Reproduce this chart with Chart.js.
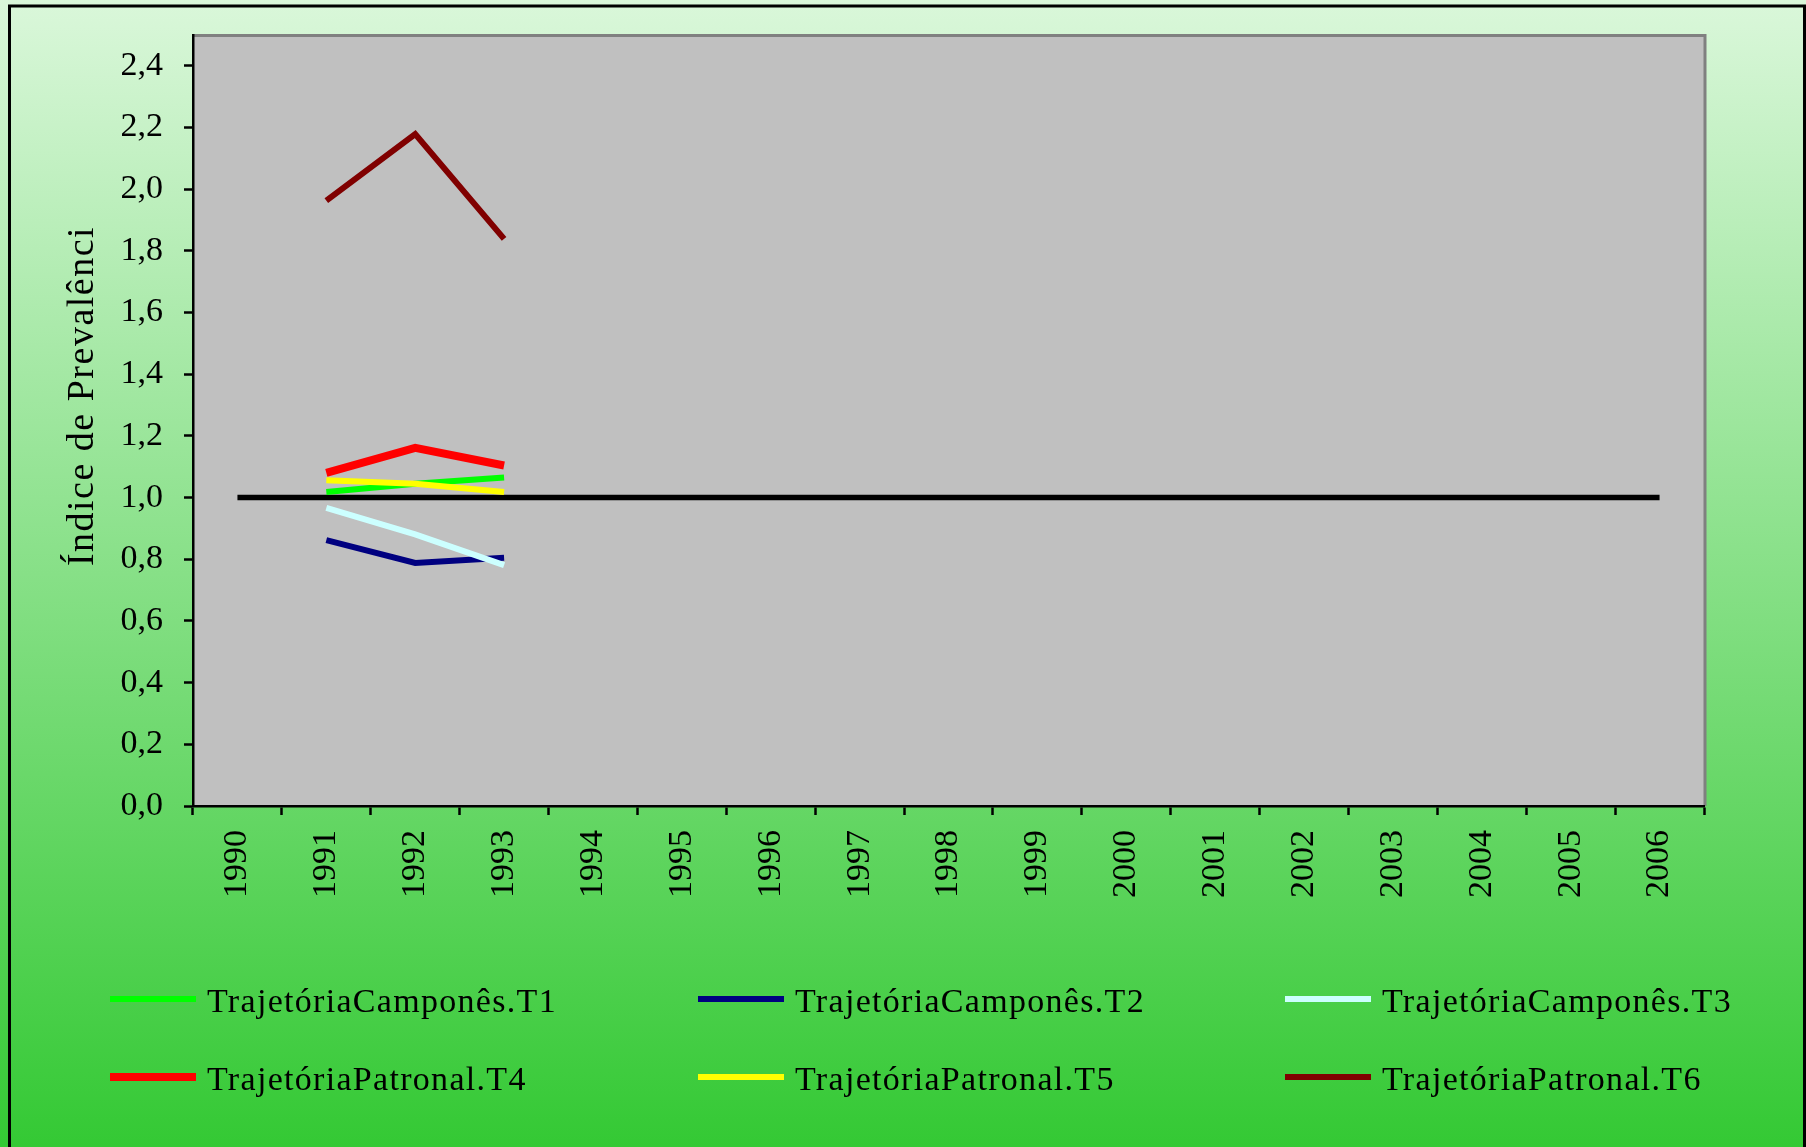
<!DOCTYPE html>
<html lang="pt">
<head>
<meta charset="utf-8">
<title>Índice de Prevalência</title>
<script src="https://cdn.jsdelivr.net/npm/chart.js@4.4.1/dist/chart.umd.min.js"></script>
<style>
  html, body { margin: 0; padding: 0; background: #ffffff; }
  canvas { display: block; }
</style>
</head>
<body>
<canvas id="chart" width="1806" height="1147"></canvas>
<script>
// Categories (years) and axis text
const years = ['1990', '1991', '1992', '1993', '1994', '1995', '1996', '1997', '1998',
               '1999', '2000', '2001', '2002', '2003', '2004', '2005', '2006'];
const yTickValues = [0, 0.2, 0.4, 0.6, 0.8, 1.0, 1.2, 1.4, 1.6, 1.8, 2.0, 2.2, 2.4];
const yAxisTitle = 'Índice de Prevalênci';

// Series names
const seriesNames = [
  'TrajetóriaCamponês.T1', 'TrajetóriaCamponês.T2', 'TrajetóriaCamponês.T3',
  'TrajetóriaPatronal.T4', 'TrajetóriaPatronal.T5', 'TrajetóriaPatronal.T6'
];

// Series values (only 1991-1993 available)
const camponesT1 = [null, 1.018, 1.045, 1.065, null, null, null, null, null, null, null, null, null, null, null, null, null];
const camponesT2 = [null, 0.862, 0.788, 0.805, null, null, null, null, null, null, null, null, null, null, null, null, null];
const camponesT3 = [null, 0.967, 0.881, 0.781, null, null, null, null, null, null, null, null, null, null, null, null, null];
const patronalT4 = [null, 1.080, 1.161, 1.104, null, null, null, null, null, null, null, null, null, null, null, null, null];
const patronalT5 = [null, 1.056, 1.045, 1.018, null, null, null, null, null, null, null, null, null, null, null, null, null];
const patronalT6 = [null, 1.963, 2.179, 1.839, null, null, null, null, null, null, null, null, null, null, null, null, null];

// Reference level (index = 1)
const referenceLevel = [1, 1, 1, 1, 1, 1, 1, 1, 1, 1, 1, 1, 1, 1, 1, 1, 1];

const SERIF = "'Liberation Serif', 'Times New Roman', serif";
Chart.defaults.font.family = SERIF;
Chart.defaults.color = '#000000';

const seriesStyles = [
  { color: '#00FF00', width: 6 },
  { color: '#000080', width: 6 },
  { color: '#CCFFFF', width: 6 },
  { color: '#FF0000', width: 8 },
  { color: '#FFFF00', width: 6 },
  { color: '#800000', width: 6 }
];
const seriesData = [camponesT1, camponesT2, camponesT3, patronalT4, patronalT5, patronalT6];

const datasets = seriesData.map((d, i) => ({
  label: seriesNames[i],
  data: d,
  borderColor: seriesStyles[i].color,
  backgroundColor: seriesStyles[i].color,
  borderWidth: seriesStyles[i].width,
  order: 6 - i,
  inLegend: true
}));
datasets.push({
  label: 'Referência',
  data: referenceLevel,
  borderColor: '#000000',
  backgroundColor: '#000000',
  borderWidth: 5.5,
  order: 10,
  inLegend: false
});

// Page background, outer frame and plot area
const backgroundPlugin = {
  id: 'backgroundFrame',
  beforeDraw(chart) {
    const { ctx, width, height, chartArea: a } = chart;
    ctx.save();
    const g = ctx.createLinearGradient(0, 0, 0, height);
    g.addColorStop(0, 'rgb(218,247,218)');
    g.addColorStop(1, 'rgb(52,201,52)');
    ctx.fillStyle = g;
    ctx.fillRect(0, 0, width, height);

    ctx.strokeStyle = '#000000';
    ctx.lineWidth = 3;
    ctx.strokeRect(9.5, 6, 1795, height + 20);

    ctx.fillStyle = '#C0C0C0';
    ctx.fillRect(a.left, a.top, a.right - a.left, a.bottom - a.top);

    ctx.strokeStyle = '#808080';
    ctx.lineWidth = 3;
    ctx.beginPath();
    ctx.moveTo(a.left - 1, a.top + 0.5);
    ctx.lineTo(a.right + 2.5, a.top + 0.5);
    ctx.moveTo(a.right + 1, a.top);
    ctx.lineTo(a.right + 1, a.bottom);
    ctx.stroke();
    ctx.restore();
  }
};

// Rotated y-axis title
const yTitlePlugin = {
  id: 'yTitle',
  afterDraw(chart) {
    const { ctx } = chart;
    ctx.save();
    ctx.translate(93, 396);
    ctx.rotate(-Math.PI / 2);
    ctx.font = '38px ' + SERIF;
    ctx.letterSpacing = '1.5px';
    ctx.fillStyle = '#000000';
    ctx.textAlign = 'center';
    ctx.textBaseline = 'alphabetic';
    ctx.fillText(yAxisTitle, 0, 0);
    ctx.restore();
  }
};

// Three-column legend below the axis
const legendPlugin = {
  id: 'gridLegend',
  afterDraw(chart) {
    const { ctx } = chart;
    const colX = [110, 698, 1285];
    const rowY = [999, 1077];
    const lineLen = 86;
    ctx.save();
    ctx.font = '34px ' + SERIF;
    ctx.letterSpacing = '1.3px';
    ctx.textAlign = 'left';
    ctx.textBaseline = 'alphabetic';
    ctx.lineCap = 'butt';
    let k = 0;
    chart.data.datasets.forEach(ds => {
      if (!ds.inLegend) return;
      const x = colX[k % 3];
      const y = rowY[Math.floor(k / 3)];
      ctx.strokeStyle = ds.borderColor;
      ctx.lineWidth = ds.borderWidth;
      ctx.beginPath();
      ctx.moveTo(x, y);
      ctx.lineTo(x + lineLen, y);
      ctx.stroke();
      ctx.fillStyle = '#000000';
      ctx.fillText(ds.label, x + 97, y + 13);
      k++;
    });
    ctx.restore();
  }
};

const axisGrid = {
  drawOnChartArea: false,
  drawTicks: true,
  tickLength: 9,
  tickWidth: 2.5,
  tickColor: '#000000'
};
const axisBorder = { display: true, color: '#000000', width: 2.5 };

new Chart(document.getElementById('chart'), {
  type: 'line',
  data: { labels: years, datasets },
  plugins: [backgroundPlugin, yTitlePlugin, legendPlugin],
  options: {
    responsive: false,
    animation: false,
    devicePixelRatio: 1,
    layout: { padding: { top: 35, right: 102, bottom: 0, left: 0 } },
    plugins: {
      legend: { display: false },
      tooltip: { enabled: false }
    },
    elements: {
      point: { radius: 0, hoverRadius: 0 },
      line: { tension: 0, borderCapStyle: 'butt', borderJoinStyle: 'miter', fill: false }
    },
    spanGaps: false,
    scales: {
      x: {
        type: 'category',
        offset: true,
        grid: Object.assign({ offset: true }, axisGrid),
        border: axisBorder,
        ticks: {
          autoSkip: false,
          minRotation: 90,
          maxRotation: 90,
          padding: 15,
          color: '#000000',
          font: { size: 34, family: SERIF }
        },
        afterFit(scale) {
          scale.height = 341;
          scale.paddingLeft = 0;
          scale.paddingRight = 0;
        }
      },
      y: {
        type: 'linear',
        min: 0,
        max: 2.5,
        grid: axisGrid,
        border: axisBorder,
        afterBuildTicks(scale) {
          scale.ticks = yTickValues.map(v => ({ value: v }));
        },
        ticks: {
          padding: 21,
          color: '#000000',
          font: { size: 34, family: SERIF },
          callback: v => Number(v).toFixed(1).replace('.', ',')
        },
        afterFit(scale) {
          scale.width = 193;
          scale.paddingTop = 0;
          scale.paddingBottom = 0;
        }
      }
    }
  }
});
</script>
</body>
</html>
